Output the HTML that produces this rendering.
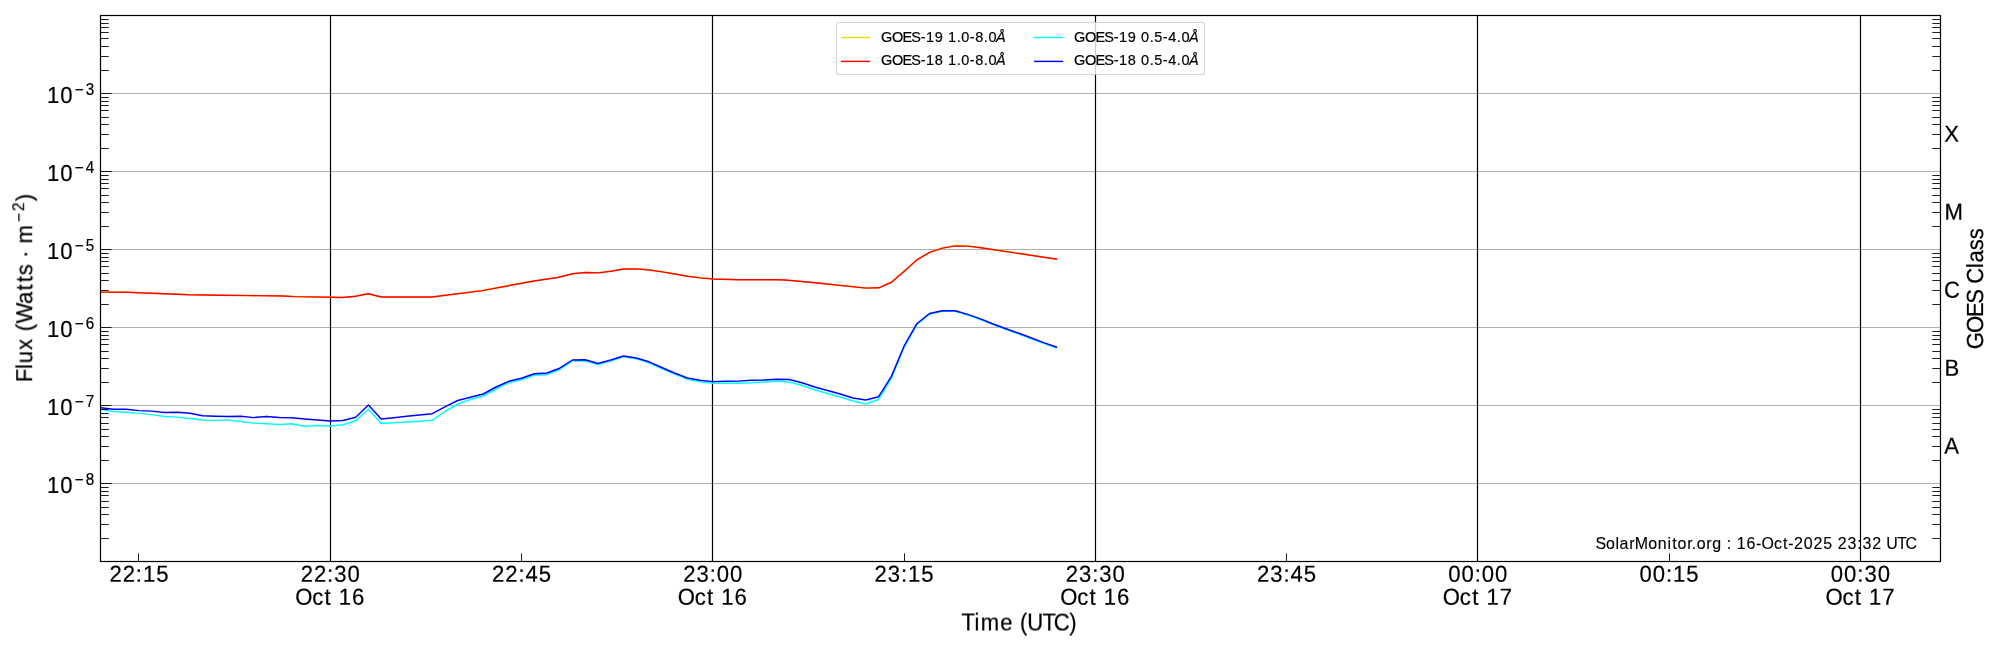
<!DOCTYPE html>
<html><head><meta charset="utf-8"><title>GOES X-ray Flux</title>
<style>html,body{margin:0;padding:0;background:#fff;}body{width:2000px;height:650px;overflow:hidden;font-family:"Liberation Sans",sans-serif;}svg{display:block;}</style>
</head><body>
<svg width="2000" height="650" viewBox="0 0 2000 650">
<rect x="0" y="0" width="2000" height="650" fill="#ffffff"/>
<defs><clipPath id="ax"><rect x="100.5" y="15.5" width="1840.0" height="546.0"/></clipPath></defs>
<path d="M100.5,483.5 H1940.5 M100.5,405.5 H1940.5 M100.5,327.5 H1940.5 M100.5,249.5 H1940.5 M100.5,171.5 H1940.5 M100.5,93.5 H1940.5" stroke="#b0b0b0" stroke-width="1.1" fill="none"/>
<path d="M330.5,15.5 V561.5 M712.5,15.5 V561.5 M1095.5,15.5 V561.5 M1477.5,15.5 V561.5 M1860.5,15.5 V561.5" stroke="#000" stroke-width="1.2" fill="none"/>
<g clip-path="url(#ax)" fill="none" stroke-width="1.45" stroke-linejoin="round" stroke-linecap="butt">
<path d="M88.00,291.48 L100.00,291.98 L126.00,292.13 L157.50,293.38 L188.75,294.63 L220.00,295.13 L251.00,295.48 L282.50,295.88 L295.00,296.48 L330.50,297.13 L342.50,297.38 L355.50,296.13 L368.25,293.63 L381.00,296.88 L432.00,296.88 L482.50,290.48 L532.50,281.13 L557.50,277.38 L572.75,273.63 L585.50,272.38 L598.25,272.78 L611.00,271.13 L623.75,268.88 L636.50,268.78 L649.25,269.88 L662.00,271.78 L674.75,273.88 L687.50,276.13 L700.25,277.78 L713.00,278.88 L738.50,279.63 L776.75,279.63 L785.00,279.88 L810.00,282.13 L866.00,287.98 L878.75,287.68 L891.50,282.13 L904.25,271.08 L917.00,259.68 L929.75,252.23 L942.50,247.98 L955.25,245.73 L968.00,245.98 L980.75,247.68 L1057.25,259.13" stroke="#ffd700"/>
<path d="M88.00,291.60 L100.00,292.10 L126.00,292.25 L157.50,293.50 L188.75,294.75 L220.00,295.25 L251.00,295.60 L282.50,296.00 L295.00,296.60 L330.50,297.25 L342.50,297.50 L355.50,296.25 L368.25,293.75 L381.00,297.00 L432.00,297.00 L482.50,290.60 L532.50,281.25 L557.50,277.50 L572.75,273.75 L585.50,272.50 L598.25,272.90 L611.00,271.25 L623.75,269.00 L636.50,268.90 L649.25,270.00 L662.00,271.90 L674.75,274.00 L687.50,276.25 L700.25,277.90 L713.00,279.00 L738.50,279.75 L776.75,279.75 L785.00,280.00 L810.00,282.25 L866.00,288.10 L878.75,287.80 L891.50,282.25 L904.25,271.20 L917.00,259.80 L929.75,252.35 L942.50,248.10 L955.25,245.85 L968.00,246.10 L980.75,247.80 L1057.25,259.25" stroke="#ff0000"/>
<path d="M87.92,407.50 L100.67,409.40 L113.42,411.50 L126.17,412.25 L138.92,413.40 L151.68,414.60 L164.43,416.50 L177.18,417.10 L189.93,418.50 L202.68,420.00 L215.44,420.40 L228.19,419.90 L240.94,421.50 L253.69,423.10 L266.44,423.75 L279.19,424.50 L291.94,423.75 L304.70,426.25 L317.45,425.50 L330.20,426.00 L342.95,424.70 L355.70,420.70 L368.45,409.20 L381.21,423.50 L393.96,422.80 L406.71,422.00 L419.46,421.20 L432.21,420.30 L444.96,411.50 L457.72,404.00 L470.47,399.50 L483.22,396.00 L495.97,389.00 L508.72,382.70 L521.48,379.70 L534.23,375.20 L546.98,374.50 L559.73,369.50 L572.48,361.00 L585.23,361.00 L597.99,364.50 L610.74,361.00 L623.49,356.80 L636.24,358.80 L648.99,362.80 L661.74,368.50 L674.50,374.00 L687.25,379.20 L700.00,381.70 L712.75,383.30 L725.50,383.20 L738.25,383.20 L751.00,382.80 L763.76,382.00 L776.51,381.20 L789.26,382.00 L802.01,385.50 L814.76,389.80 L827.51,393.50 L840.27,397.00 L853.02,401.00 L865.77,404.00 L878.52,399.50 L891.27,378.50 L904.03,347.50 L916.78,324.60 L929.53,314.10 L942.28,311.30 L955.03,311.30 L967.78,315.00 L980.54,319.60 L993.29,324.70 L1006.04,329.40 L1018.79,334.00 L1031.54,338.70 L1044.29,343.60 L1057.05,348.00" stroke="#00ffff"/>
<path d="M87.92,406.25 L100.67,407.75 L113.42,409.25 L126.17,409.25 L138.92,410.60 L151.68,411.10 L164.43,412.50 L177.18,412.25 L189.93,413.25 L202.68,415.75 L215.44,416.25 L228.19,416.50 L240.94,416.25 L253.69,417.60 L266.44,416.50 L279.19,417.50 L291.94,417.75 L304.70,419.00 L317.45,420.00 L330.20,421.00 L342.95,420.50 L355.70,417.20 L368.45,405.00 L381.21,419.00 L393.96,417.70 L406.71,416.30 L419.46,415.00 L432.21,413.70 L444.96,406.80 L457.72,400.50 L470.47,397.20 L483.22,394.00 L495.97,387.00 L508.72,381.30 L521.48,378.20 L534.23,373.80 L546.98,373.00 L559.73,368.20 L572.48,360.00 L585.23,359.80 L597.99,363.50 L610.74,360.00 L623.49,356.00 L636.24,358.00 L648.99,361.80 L661.74,367.50 L674.50,373.00 L687.25,378.00 L700.00,380.30 L712.75,381.60 L725.50,381.20 L738.25,381.10 L751.00,380.30 L763.76,380.00 L776.51,379.20 L789.26,379.50 L802.01,382.80 L814.76,387.00 L827.51,390.50 L840.27,394.00 L853.02,398.00 L865.77,400.00 L878.52,396.80 L891.27,376.60 L904.03,346.20 L916.78,323.80 L929.53,313.50 L942.28,310.80 L955.03,310.80 L967.78,314.40 L980.54,318.90 L993.29,324.00 L1006.04,328.70 L1018.79,333.30 L1031.54,338.00 L1044.29,342.90 L1057.05,347.30" stroke="#0000ff"/>
</g>
<path d="M100.5,538.5 h8.2 M1940.5,538.5 h-8.2 M100.5,524.5 h8.2 M1940.5,524.5 h-8.2 M100.5,514.5 h8.2 M1940.5,514.5 h-8.2 M100.5,507.5 h8.2 M1940.5,507.5 h-8.2 M100.5,501.5 h8.2 M1940.5,501.5 h-8.2 M100.5,495.5 h8.2 M1940.5,495.5 h-8.2 M100.5,491.5 h8.2 M1940.5,491.5 h-8.2 M100.5,487.5 h8.2 M1940.5,487.5 h-8.2 M100.5,483.5 h11.0 M100.5,460.5 h8.2 M1940.5,460.5 h-8.2 M100.5,446.5 h8.2 M1940.5,446.5 h-8.2 M100.5,436.5 h8.2 M1940.5,436.5 h-8.2 M100.5,429.5 h8.2 M1940.5,429.5 h-8.2 M100.5,423.5 h8.2 M1940.5,423.5 h-8.2 M100.5,417.5 h8.2 M1940.5,417.5 h-8.2 M100.5,413.5 h8.2 M1940.5,413.5 h-8.2 M100.5,409.5 h8.2 M1940.5,409.5 h-8.2 M100.5,405.5 h11.0 M100.5,382.5 h8.2 M1940.5,382.5 h-8.2 M100.5,368.5 h8.2 M1940.5,368.5 h-8.2 M100.5,358.5 h8.2 M1940.5,358.5 h-8.2 M100.5,351.5 h8.2 M1940.5,351.5 h-8.2 M100.5,344.5 h8.2 M1940.5,344.5 h-8.2 M100.5,339.5 h8.2 M1940.5,339.5 h-8.2 M100.5,335.5 h8.2 M1940.5,335.5 h-8.2 M100.5,331.5 h8.2 M1940.5,331.5 h-8.2 M100.5,327.5 h11.0 M100.5,304.5 h8.2 M1940.5,304.5 h-8.2 M100.5,290.5 h8.2 M1940.5,290.5 h-8.2 M100.5,280.5 h8.2 M1940.5,280.5 h-8.2 M100.5,273.5 h8.2 M1940.5,273.5 h-8.2 M100.5,266.5 h8.2 M1940.5,266.5 h-8.2 M100.5,261.5 h8.2 M1940.5,261.5 h-8.2 M100.5,257.5 h8.2 M1940.5,257.5 h-8.2 M100.5,253.5 h8.2 M1940.5,253.5 h-8.2 M100.5,249.5 h11.0 M100.5,226.5 h8.2 M1940.5,226.5 h-8.2 M100.5,212.5 h8.2 M1940.5,212.5 h-8.2 M100.5,202.5 h8.2 M1940.5,202.5 h-8.2 M100.5,195.5 h8.2 M1940.5,195.5 h-8.2 M100.5,188.5 h8.2 M1940.5,188.5 h-8.2 M100.5,183.5 h8.2 M1940.5,183.5 h-8.2 M100.5,179.5 h8.2 M1940.5,179.5 h-8.2 M100.5,175.5 h8.2 M1940.5,175.5 h-8.2 M100.5,171.5 h11.0 M100.5,148.5 h8.2 M1940.5,148.5 h-8.2 M100.5,134.5 h8.2 M1940.5,134.5 h-8.2 M100.5,124.5 h8.2 M1940.5,124.5 h-8.2 M100.5,117.5 h8.2 M1940.5,117.5 h-8.2 M100.5,110.5 h8.2 M1940.5,110.5 h-8.2 M100.5,105.5 h8.2 M1940.5,105.5 h-8.2 M100.5,101.5 h8.2 M1940.5,101.5 h-8.2 M100.5,97.5 h8.2 M1940.5,97.5 h-8.2 M100.5,93.5 h11.0 M100.5,70.5 h8.2 M1940.5,70.5 h-8.2 M100.5,56.5 h8.2 M1940.5,56.5 h-8.2 M100.5,46.5 h8.2 M1940.5,46.5 h-8.2 M100.5,38.5 h8.2 M1940.5,38.5 h-8.2 M100.5,32.5 h8.2 M1940.5,32.5 h-8.2 M100.5,27.5 h8.2 M1940.5,27.5 h-8.2 M100.5,23.5 h8.2 M1940.5,23.5 h-8.2 M100.5,19.5 h8.2 M1940.5,19.5 h-8.2 M138.5,561.5 v-8.2 M521.5,561.5 v-8.2 M904.5,561.5 v-8.2 M1286.5,561.5 v-8.2 M1669.5,561.5 v-8.2" stroke="#000" stroke-width="0.88" fill="none"/>
<rect x="100.5" y="15.5" width="1840.0" height="546.0" fill="none" stroke="#000" stroke-width="1.2"/>
<g style="will-change:opacity" font-family="'Liberation Sans', sans-serif" fill="#000" stroke="#000" stroke-width="0.22">
<text transform="translate(108.91 581.80) rotate(0.050) scale(0.950 1)" x="0.51 14.46 28.37 35.80 49.75" y="0" font-size="23.27">22:15</text>
<text transform="translate(300.18 581.80) rotate(0.050) scale(0.950 1)" x="0.51 14.46 28.37 35.80 49.75" y="0" font-size="23.27">22:30</text>
<text transform="translate(295.62 604.80) rotate(0.050) scale(0.950 1)" x="-0.42 17.47 30.39 38.17 45.39 59.35" y="0" font-size="23.27">Oct 16</text>
<text transform="translate(491.46 581.80) rotate(0.050) scale(0.950 1)" x="0.51 14.46 28.37 35.80 49.75" y="0" font-size="23.27">22:45</text>
<text transform="translate(682.73 581.80) rotate(0.050) scale(0.950 1)" x="0.51 14.46 28.37 35.80 49.75" y="0" font-size="23.27">23:00</text>
<text transform="translate(678.17 604.80) rotate(0.050) scale(0.950 1)" x="-0.42 17.47 30.39 38.17 45.39 59.35" y="0" font-size="23.27">Oct 16</text>
<text transform="translate(874.01 581.80) rotate(0.050) scale(0.950 1)" x="0.51 14.46 28.37 35.80 49.75" y="0" font-size="23.27">23:15</text>
<text transform="translate(1065.28 581.80) rotate(0.050) scale(0.950 1)" x="0.51 14.46 28.37 35.80 49.75" y="0" font-size="23.27">23:30</text>
<text transform="translate(1060.72 604.80) rotate(0.050) scale(0.950 1)" x="-0.42 17.47 30.39 38.17 45.39 59.35" y="0" font-size="23.27">Oct 16</text>
<text transform="translate(1256.56 581.80) rotate(0.050) scale(0.950 1)" x="0.51 14.46 28.37 35.80 49.75" y="0" font-size="23.27">23:45</text>
<text transform="translate(1447.83 581.80) rotate(0.050) scale(0.950 1)" x="0.51 14.46 28.37 35.80 49.75" y="0" font-size="23.27">00:00</text>
<text transform="translate(1443.27 604.80) rotate(0.050) scale(0.950 1)" x="-0.42 17.47 30.39 38.17 45.39 59.35" y="0" font-size="23.27">Oct 17</text>
<text transform="translate(1639.11 581.80) rotate(0.050) scale(0.950 1)" x="0.51 14.46 28.37 35.80 49.75" y="0" font-size="23.27">00:15</text>
<text transform="translate(1830.38 581.80) rotate(0.050) scale(0.950 1)" x="0.51 14.46 28.37 35.80 49.75" y="0" font-size="23.27">00:30</text>
<text transform="translate(1825.82 604.80) rotate(0.050) scale(0.950 1)" x="-0.42 17.47 30.39 38.17 45.39 59.35" y="0" font-size="23.27">Oct 17</text>
<text transform="translate(961.92 630.50) rotate(0.050) scale(0.950 1)" x="-0.41 13.18 19.80 40.45 53.92 61.04 68.82 84.84 96.61 113.07" y="0" font-size="23.27">Time (UTC)</text>
<text transform="translate(46.49 493.00) rotate(0.050) scale(0.950 1)" x="0.51 14.46" y="0" font-size="23.27">10</text>
<text transform="translate(73.10 484.80) scale(0.950 1)" x="1.75 13.28" y="0" font-size="16.04">−8</text>
<text transform="translate(46.49 415.00) rotate(0.050) scale(0.950 1)" x="0.51 14.46" y="0" font-size="23.27">10</text>
<text transform="translate(73.10 406.80) scale(0.950 1)" x="1.75 13.28" y="0" font-size="16.04">−7</text>
<text transform="translate(46.49 337.00) rotate(0.050) scale(0.950 1)" x="0.51 14.46" y="0" font-size="23.27">10</text>
<text transform="translate(73.10 328.80) scale(0.950 1)" x="1.75 13.28" y="0" font-size="16.04">−6</text>
<text transform="translate(46.49 259.00) rotate(0.050) scale(0.950 1)" x="0.51 14.46" y="0" font-size="23.27">10</text>
<text transform="translate(73.10 250.80) scale(0.950 1)" x="1.75 13.28" y="0" font-size="16.04">−5</text>
<text transform="translate(46.49 181.00) rotate(0.050) scale(0.950 1)" x="0.51 14.46" y="0" font-size="23.27">10</text>
<text transform="translate(73.10 172.80) scale(0.950 1)" x="1.75 13.28" y="0" font-size="16.04">−4</text>
<text transform="translate(46.49 103.00) rotate(0.050) scale(0.950 1)" x="0.51 14.46" y="0" font-size="23.27">10</text>
<text transform="translate(73.10 94.80) scale(0.950 1)" x="1.75 13.28" y="0" font-size="16.04">−3</text>
<text transform="translate(1944.60 453.83) rotate(0.050) scale(0.950 1)" x="-0.26" y="0" font-size="23.27">A</text>
<text transform="translate(1944.60 375.78) rotate(0.050) scale(0.950 1)" x="-0.24" y="0" font-size="23.27">B</text>
<text transform="translate(1944.60 297.73) rotate(0.050) scale(0.950 1)" x="-0.75" y="0" font-size="23.27">C</text>
<text transform="translate(1944.60 219.68) rotate(0.050) scale(0.950 1)" x="-0.23" y="0" font-size="23.27">M</text>
<text transform="translate(1944.60 141.63) rotate(0.050) scale(0.950 1)" x="-0.25" y="0" font-size="23.27">X</text>
<g transform="translate(1983.0,288.5) rotate(-90)"><text transform="translate(-60.18 0.00) rotate(0.050) scale(0.950 1)" x="-0.55 16.57 33.42 47.31 62.28 68.26 84.78 90.66 103.74 115.17" y="0" font-size="23.27">GOES Class</text></g>
<g transform="translate(32.2,287.5) rotate(-90)"><text transform="translate(-94.03 0.00) rotate(0.050) scale(0.950 1)" x="-0.80 13.08 19.19 33.28 45.84 52.96 60.97 81.64 95.90 104.49 111.92 123.70 130.03 137.65 145.35" y="0" font-size="23.27">Flux (Watts · m</text><text transform="translate(63.91 -7.60) scale(0.950 1)" x="1.75 13.28" y="0" font-size="16.04">−2</text><text transform="translate(85.91 0.00) rotate(0.050) scale(0.950 1)" x="0.40" y="0" font-size="23.27">)</text></g>
</g>
<g style="will-change:opacity" font-family="'Liberation Sans', sans-serif" fill="#000" stroke="#000" stroke-width="0.15">
<text transform="translate(1596.00 549.40) scale(0.950 1)" x="-0.50 10.45 20.41 24.77 34.88 40.92 55.10 65.12 75.26 80.18 85.91 96.01 100.86 106.00 116.10 122.35 132.35 137.61 142.88 148.21 158.44 168.34 174.28 187.36 196.80 202.39 208.53 218.77 229.00 239.23 249.24 254.57 264.81 274.97 280.46 290.69 300.70 305.41 317.14 325.79" y="0" font-size="16.81">SolarMonitor.org : 16-Oct-2025 23:32 UTC</text>
</g>
<rect x="836.5" y="22.5" width="368" height="52" rx="2.8" ry="2.8" fill="#ffffff" fill-opacity="0.8" stroke="#cccccc" stroke-opacity="0.8" stroke-width="1.1"/>
<g style="will-change:opacity" font-family="'Liberation Sans', sans-serif" fill="#000" stroke="#000" stroke-width="0.2">
<path d="M841.0,37.5 h29.2" stroke="#ffd700" stroke-width="1.45" fill="none"/><text transform="translate(881.30 41.60) scale(0.950 1)" x="-0.28 11.14 22.36 31.62 41.45 47.03 56.33 65.43 70.28 79.38 84.23 93.22 98.81 107.91 112.76" y="0" font-size="15.28">GOES-19 1.0-8.0</text><text transform="translate(995.97 41.60) scale(0.950 1)" x="-0.09" y="0" font-size="15.28" font-style="italic">Å</text>
<path d="M841.0,61.4 h29.2" stroke="#ff0000" stroke-width="1.45" fill="none"/><text transform="translate(881.30 64.90) scale(0.950 1)" x="-0.28 11.14 22.36 31.62 41.45 47.03 56.33 65.43 70.28 79.38 84.23 93.22 98.81 107.91 112.76" y="0" font-size="15.28">GOES-18 1.0-8.0</text><text transform="translate(995.97 64.90) scale(0.950 1)" x="-0.09" y="0" font-size="15.28" font-style="italic">Å</text>
<path d="M1034.0,37.5 h29.2" stroke="#00ffff" stroke-width="1.45" fill="none"/><text transform="translate(1074.30 41.60) scale(0.950 1)" x="-0.28 11.14 22.36 31.62 41.45 47.03 56.33 65.43 70.28 79.38 84.23 93.22 98.81 107.91 112.76" y="0" font-size="15.28">GOES-19 0.5-4.0</text><text transform="translate(1188.97 41.60) scale(0.950 1)" x="-0.09" y="0" font-size="15.28" font-style="italic">Å</text>
<path d="M1034.0,61.4 h29.2" stroke="#0000ff" stroke-width="1.45" fill="none"/><text transform="translate(1074.30 64.90) scale(0.950 1)" x="-0.28 11.14 22.36 31.62 41.45 47.03 56.33 65.43 70.28 79.38 84.23 93.22 98.81 107.91 112.76" y="0" font-size="15.28">GOES-18 0.5-4.0</text><text transform="translate(1188.97 64.90) scale(0.950 1)" x="-0.09" y="0" font-size="15.28" font-style="italic">Å</text>
</g>
</svg>
</body></html>
